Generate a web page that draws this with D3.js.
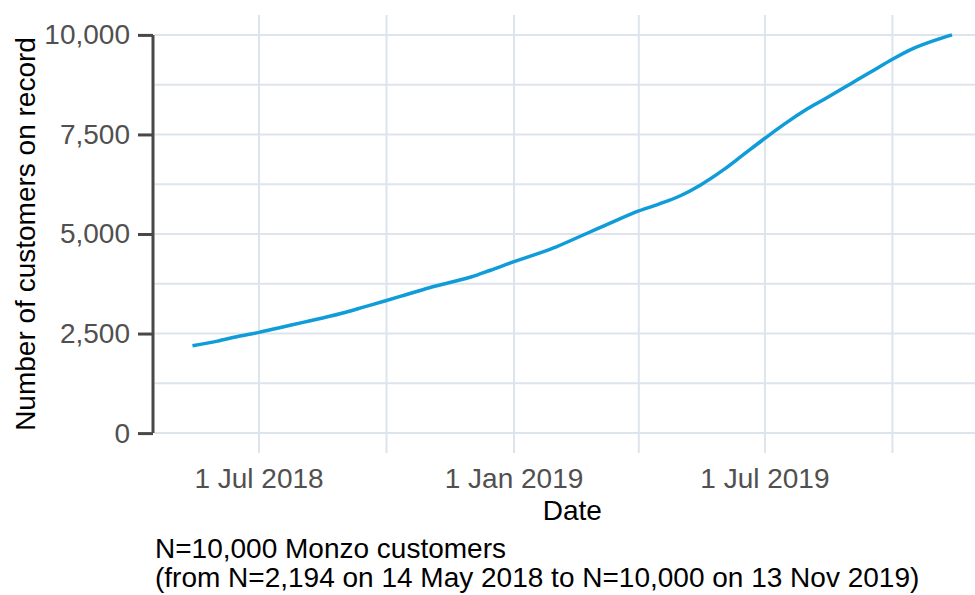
<!DOCTYPE html>
<html>
<head>
<meta charset="utf-8">
<script src="https://cdn.jsdelivr.net/npm/d3@7"></script>
<style>
  body { margin: 0; background: #fff; }
  svg { display: block; font-family: Arial, "Liberation Sans", sans-serif; }
</style>
</head>
<body>
<script>
// values
const dates = ["2018-05-14", "2018-06-01", "2018-06-15", "2018-07-01", "2018-07-15", "2018-08-01",
  "2018-08-15", "2018-09-01", "2018-09-15", "2018-10-01", "2018-10-15", "2018-11-01", "2018-11-15",
  "2018-12-01", "2018-12-15", "2019-01-01", "2019-01-15", "2019-02-01", "2019-02-15", "2019-03-01",
  "2019-03-15", "2019-04-01", "2019-04-15", "2019-05-01", "2019-05-15", "2019-06-01", "2019-06-15",
  "2019-07-01", "2019-07-15", "2019-08-01", "2019-08-15", "2019-09-01", "2019-09-15", "2019-10-01",
  "2019-10-15", "2019-11-01", "2019-11-13"];
const customers = [2194, 2310, 2420, 2530, 2640, 2775, 2885, 3030, 3170, 3330, 3475, 3650, 3775,
  3920, 4090, 4304, 4470, 4684, 4900, 5115, 5330, 5580, 5745, 5960, 6220, 6610, 6980,
  7404, 7760, 8150, 8430, 8775, 9060, 9390, 9645, 9870, 10000];

const yTicks = [0, 2500, 5000, 7500, 10000];
const yMinor = [1250, 3750, 6250, 8750];
const xTicks = ["2018-07-01", "2019-01-01", "2019-07-01"];
const xTickLabels = ["1 Jul 2018", "1 Jan 2019", "1 Jul 2019"];
const xMinor = ["2018-10-01", "2019-04-01", "2019-10-01"];
const caption = ["N=10,000 Monzo customers",
  "(from N=2,194 on 14 May 2018 to N=10,000 on 13 Nov 2019)"];

const parse = d3.timeParse("%Y-%m-%d");
const data = dates.map((d, i) => ({ date: parse(d), value: customers[i] }));

const width = 975,
  height = 595,
  panel = { left: 154.5, right: 990, top: 15, bottom: 453 },
  fontSize = 28;

const svg = d3.select("body").append("svg")
  .attr("width", width)
  .attr("height", height);

// scales, 5% padding like ggplot
const ext = d3.extent(data, d => d.date);
const pad = (ext[1] - ext[0]) * 0.05;
const x = d3.scaleTime()
  .domain([new Date(+ext[0] - pad), new Date(+ext[1] + pad)])
  .range([panel.left, panel.right]);
const y = d3.scaleLinear()
  .domain([-500, 10500])
  .range([panel.bottom, panel.top]);

//Grid
const grid = svg.append("g")
  .attr("stroke", "#dde4eb")
  .attr("stroke-width", 2);
grid.selectAll(".hgrid")
  .data([...yTicks, ...yMinor])
  .join("line")
  .attr("x1", panel.left)
  .attr("x2", width)
  .attr("y1", d => y(d))
  .attr("y2", d => y(d));
grid.selectAll(".vgrid")
  .data([...xTicks, ...xMinor].map(parse))
  .join("line")
  .attr("x1", d => x(d))
  .attr("x2", d => x(d))
  .attr("y1", panel.top)
  .attr("y2", panel.bottom);

//Y axis
const yAxis = svg.append("g")
  .attr("transform", "translate(" + (panel.left - 1.5) + ",0)")
  .call(d3.axisLeft(y).tickValues(yTicks).tickSize(15).tickSizeOuter(0).tickPadding(8).tickFormat(d3.format(",")));
yAxis.select(".domain")
  .attr("d", "M0," + y(0) + "V" + y(10000))
  .attr("stroke", "#484848")
  .attr("stroke-width", 3);
yAxis.selectAll(".tick line")
  .attr("stroke", "#484848")
  .attr("stroke-width", 3);
yAxis.selectAll(".tick text")
  .attr("fill", "#505050")
  .attr("font-size", fontSize)
  .attr("font-family", "Arial, 'Liberation Sans', sans-serif");

//X labels
svg.append("g")
  .selectAll("text")
  .data(xTicks)
  .join("text")
  .attr("x", d => x(parse(d)))
  .attr("y", 488)
  .attr("text-anchor", "middle")
  .attr("fill", "#505050")
  .attr("font-size", fontSize)
  .text((d, i) => xTickLabels[i]);

//Line
svg.append("path")
  .datum(data)
  .attr("fill", "none")
  .attr("stroke", "#0f9cd9")
  .attr("stroke-width", 3.5)
  .attr("stroke-linejoin", "round")
  .attr("d", d3.line().curve(d3.curveMonotoneX).x(d => x(d.date)).y(d => y(d.value)));

//Titles
svg.append("text")
  .attr("transform", "translate(35," + ((panel.top + panel.bottom) / 2) + ") rotate(-90)")
  .attr("text-anchor", "middle")
  .attr("font-size", fontSize)
  .attr("fill", "#000")
  .text("Number of customers on record");
svg.append("text")
  .attr("x", (panel.left + panel.right) / 2)
  .attr("y", 520)
  .attr("text-anchor", "middle")
  .attr("font-size", fontSize)
  .attr("fill", "#000")
  .text("Date");
svg.append("g")
  .selectAll("text")
  .data(caption)
  .join("text")
  .attr("x", 155)
  .attr("y", (d, i) => 558 + i * 29)
  .attr("font-size", fontSize)
  .attr("fill", "#000")
  .text(d => d);
</script>
</body>
</html>
